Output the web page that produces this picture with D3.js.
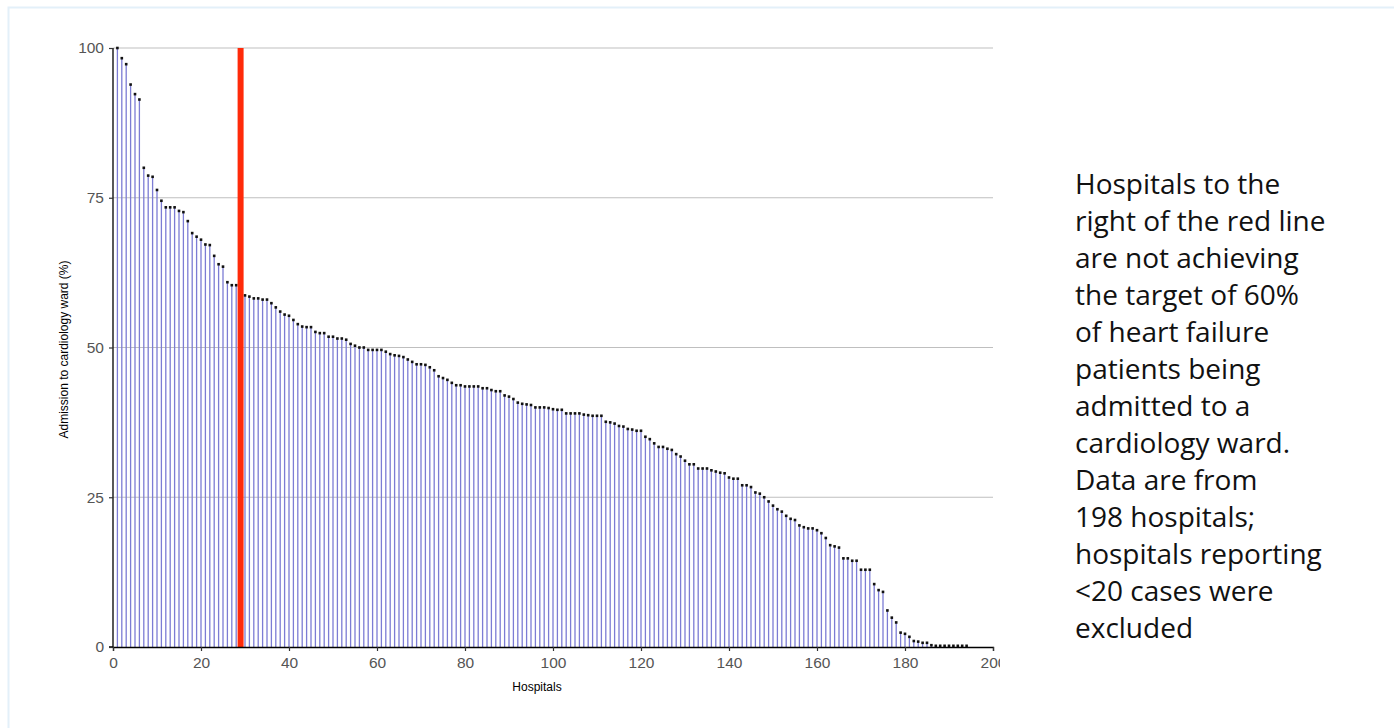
<!DOCTYPE html>
<html>
<head>
<meta charset="utf-8">
<script src="https://cdn.jsdelivr.net/npm/d3@7"></script>
<style>
  body { margin: 0; background: #fff; }
  svg { display: block; }
</style>
</head>
<body>
<div id="chart"></div>
<script>
// --- Data ---
const admissionPct = [
  100, 98.3, 97.3, 93.9, 92.3, 91.4, 80.0, 78.7, 78.5, 76.3,
  74.5, 73.4, 73.4, 73.4, 72.8, 72.6, 71.1, 69.1, 68.5, 68.0,
  67.2, 67.1, 65.3, 63.9, 63.5, 60.9, 60.4, 60.4, 60.0, 58.7,
  58.5, 58.2, 58.2, 58.0, 58.0, 57.4, 56.7, 56.0, 55.5, 55.3,
  54.6, 53.9, 53.5, 53.4, 53.4, 52.6, 52.4, 52.4, 51.8, 51.8,
  51.5, 51.5, 51.3, 50.6, 50.3, 50.0, 50.0, 49.6, 49.6, 49.6,
  49.6, 49.3, 48.9, 48.7, 48.6, 48.4, 48.0, 47.6, 47.2, 47.2,
  47.1, 46.7, 46.2, 45.2, 44.9, 44.6, 44.1, 43.7, 43.7, 43.5,
  43.5, 43.5, 43.5, 43.2, 43.2, 42.9, 42.7, 42.7, 42.0, 41.8,
  41.4, 40.8, 40.6, 40.5, 40.4, 40.0, 40.0, 40.0, 39.9, 39.7,
  39.6, 39.6, 39.0, 39.0, 39.0, 39.0, 38.8, 38.7, 38.6, 38.6,
  38.6, 37.6, 37.5, 37.3, 36.9, 36.8, 36.4, 36.3, 36.1, 36.1,
  35.1, 34.7, 34.0, 33.4, 33.4, 33.1, 32.9, 32.2, 31.8, 31.1,
  30.5, 30.5, 29.8, 29.8, 29.8, 29.5, 29.3, 29.1, 29.0, 28.3,
  28.1, 28.1, 27.0, 27.0, 26.7, 25.8, 25.6, 25.0, 24.3, 23.6,
  23.0, 22.6, 21.9, 21.4, 21.2, 20.3, 20.0, 19.8, 19.8, 19.5,
  19.0, 18.2, 17.0, 16.8, 16.6, 14.8, 14.8, 14.4, 14.4, 12.9,
  12.9, 12.9, 10.5, 9.5, 9.2, 6.1, 4.9, 4.1, 2.4, 2.2,
  1.7, 1.0, 0.9, 0.7, 0.7, 0.3, 0.2, 0.2, 0.2, 0.2,
  0.2, 0.2, 0.2, 0.2
];
const targetHospital = 29;
const xTicks = [0, 20, 40, 60, 80, 100, 120, 140, 160, 180, 200];
const yTicks = [0, 25, 50, 75, 100];
const noteLines = [
  "Hospitals to the",
  "right of the red line",
  "are not achieving",
  "the target of 60%",
  "of heart failure",
  "patients being",
  "admitted to a",
  "cardiology ward.",
  "Data are from",
  "198 hospitals;",
  "hospitals reporting",
  "<20 cases were",
  "excluded"
];

// --- Layout ---
const width = 1394, height = 728;
const plot = { left: 113, right: 993, top: 48, bottom: 647 };

const svg = d3.select("#chart").append("svg")
  .attr("width", width).attr("height", height);

// light frame
svg.append("rect")
  .attr("x", 8.5).attr("y", 7.5)
  .attr("width", 1500).attr("height", 900)
  .attr("fill", "none").attr("stroke", "#e3f0f9").attr("stroke-width", 2);

svg.append("clipPath").attr("id", "chart-clip")
  .append("rect").attr("x", 0).attr("y", 0).attr("width", 1000).attr("height", height);

const g = svg.append("g").attr("clip-path", "url(#chart-clip)");

const x = d3.scaleLinear().domain([0, 200]).range([plot.left, plot.right]);
const y = d3.scaleLinear().domain([0, 100]).range([plot.bottom, plot.top]);

// gridlines
g.selectAll(".grid").data(yTicks.filter(d => d > 0)).enter()
  .append("line")
  .attr("x1", plot.left).attr("x2", plot.right)
  .attr("y1", d => y(d)).attr("y2", d => y(d))
  .attr("stroke", "#bfbfbf").attr("stroke-width", 1.2);

// bars
const data = admissionPct.map((v, i) => ({ idx: i + 1, value: v }));
g.selectAll(".bar").data(data).enter()
  .append("line")
  .attr("x1", d => x(d.idx)).attr("x2", d => x(d.idx))
  .attr("y1", y(0)).attr("y2", d => y(d.value))
  .attr("stroke", "#7c7cd4").attr("stroke-width", 1.3);

// dots on top
g.selectAll(".dot").data(data).enter()
  .append("rect")
  .attr("x", d => x(d.idx) - 1.3).attr("y", d => y(d.value) - 1.3)
  .attr("width", 2.6).attr("height", 2.6)
  .attr("fill", "#111");

// target red line
g.append("line")
  .attr("x1", x(targetHospital)).attr("x2", x(targetHospital))
  .attr("y1", y(0)).attr("y2", y(100))
  .attr("stroke", "#ff2a0a").attr("stroke-width", 6);

// axes
const yAxis = g.append("g")
  .attr("transform", `translate(${plot.left},0)`)
  .call(d3.axisLeft(y).tickValues(yTicks).tickSize(4).tickPadding(5));
const xAxis = g.append("g")
  .attr("transform", `translate(0,${plot.bottom})`)
  .call(d3.axisBottom(x).tickValues(xTicks).tickSize(4).tickPadding(6));

[xAxis, yAxis].forEach(ax => {
  ax.select(".domain").attr("stroke", "#000").attr("stroke-width", 1.3);
  ax.selectAll(".tick line").attr("stroke", "#333").attr("stroke-width", 1.2);
  ax.selectAll(".tick text")
    .attr("fill", "#555")
    .style("font-family", "'Liberation Sans', Arial, sans-serif")
    .style("font-size", "15.5px");
});
yAxis.select(".domain").attr("d", `M-4,${plot.bottom}H0V${plot.top}`);

// axis titles
g.append("text")
  .attr("x", 537).attr("y", 691)
  .attr("text-anchor", "middle")
  .style("font-family", "'Liberation Sans', Arial, sans-serif")
  .style("font-size", "12px").attr("fill", "#000")
  .text("Hospitals");

g.append("text")
  .attr("transform", `translate(68,${(plot.top + plot.bottom) / 2 + 2}) rotate(-90)`)
  .attr("text-anchor", "middle")
  .style("font-family", "'Liberation Sans', Arial, sans-serif")
  .style("font-size", "12px").attr("fill", "#000")
  .text("Admission to cardiology ward (%)");

// side note
const note = svg.append("text")
  .style("font-family", "'Open Sans', 'Noto Sans', sans-serif")
  .style("font-size", "28px").attr("fill", "#111");
note.selectAll("tspan").data(noteLines).enter()
  .append("tspan")
  .attr("x", 1075)
  .attr("y", (d, i) => 194 + i * 37)
  .text(d => d);
</script>
</body>
</html>
